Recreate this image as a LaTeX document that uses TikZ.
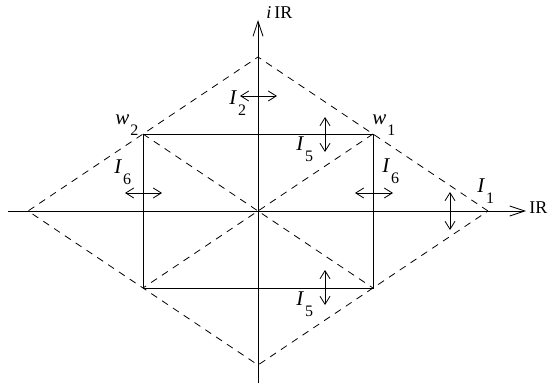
\documentclass[tikz,border=0pt]{standalone}
\usepackage{fontspec}
\setmainfont{Liberation Serif}
\usetikzlibrary{arrows.meta}
\newcommand\sublab[2]{\textit{#1}\kern1pt\raisebox{-11pt}{\fontsize{16}{16}\selectfont #2}}
\begin{document}
\begin{tikzpicture}[x=1pt,y=-1pt,
  every path/.style={line width=0.8pt},
  axis/.style={-{Straight Barb[length=15pt,width=10pt]}},
  dbl/.style={{Straight Barb[length=8pt,width=10pt]}-{Straight Barb[length=8pt,width=10pt]}},
  dsh/.style={dash pattern=on 7pt off 6pt},
  lab/.style={inner sep=0pt,anchor=base west,font=\fontsize{21}{24}\selectfont}]
\useasboundingbox (0,0) rectangle (556,390);
% key points
\coordinate (O) at (258,211);
\coordinate (w1) at (373,134);
\coordinate (w2) at (143,134);
\coordinate (w3) at (143,288);
\coordinate (w4) at (373,288);
\coordinate (R) at (488,211);
\coordinate (L) at (28,211);
\coordinate (T) at (258,57);
\coordinate (B) at (258,365);
\coordinate (xs) at (8,211);
\coordinate (xe) at (526,211);
\coordinate (ys) at (258,383);
\coordinate (ye) at (258,20);
% axes
\draw[axis] (xs) -- (xe);
\draw[axis] (ys) -- (ye);
\node[lab,font=\fontsize{18}{20}\selectfont] (xl) at (529,213) {IR};
\node[lab,font=\fontsize{18}{20}\selectfont] (yl) at (266,19) {\textit{i}\,IR};
% rectangle
\draw (w1) -- (w2) -- (w3) -- (w4) -- cycle;
% diamond and diagonals
\draw[dsh] (R) -- (T) -- (L) -- (B) -- cycle;
\draw[dsh] (w2) -- (w4);
\draw[dsh] (w1) -- (w3);
% double arrows
\coordinate (a2a) at (240,96); \coordinate (a2b) at (277,96);
\draw[dbl] (a2a) -- (a2b);
\coordinate (a5a) at (325,117); \coordinate (a5b) at (325,152);
\draw[dbl] (a5a) -- (a5b);
\coordinate (a6a) at (355,193); \coordinate (a6b) at (393,193);
\draw[dbl] (a6a) -- (a6b);
\coordinate (a7a) at (125,193); \coordinate (a7b) at (162,193);
\draw[dbl] (a7a) -- (a7b);
\coordinate (a1a) at (450,192); \coordinate (a1b) at (450,230);
\draw[dbl] (a1a) -- (a1b);
\coordinate (a8a) at (325,270); \coordinate (a8b) at (325,305);
\draw[dbl] (a8a) -- (a8b);
% labels
\node[lab] (l2) at (229,105) {\sublab{I}{2}};
\node[lab] (l5) at (296,150) {\sublab{I}{5}};
\node[lab] (l6r) at (382,172) {\sublab{I}{6}};
\node[lab] (l6l) at (114,173) {\sublab{I}{6}};
\node[lab] (l1) at (477,192) {\sublab{I}{1}};
\node[lab] (l5b) at (296,305) {\sublab{I}{5}};
\node[lab] (lw1) at (372,125) {\sublab{w}{1}};
\node[lab] (lw2) at (115,125) {\sublab{w}{2}};
\end{tikzpicture}
\end{document}
